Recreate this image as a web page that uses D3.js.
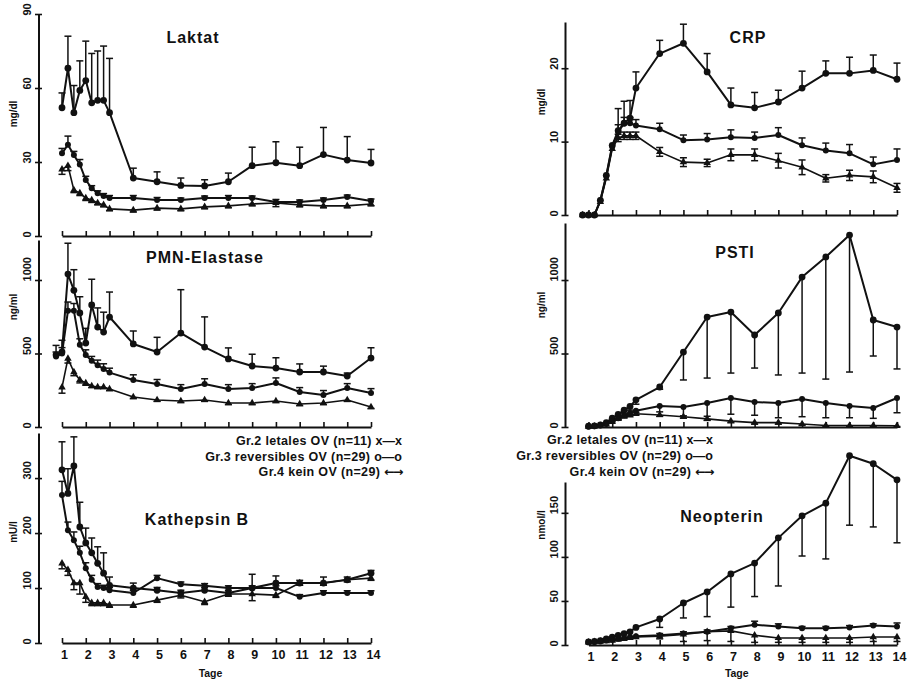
<!DOCTYPE html>
<html><head><meta charset="utf-8">
<script src="https://cdn.jsdelivr.net/npm/d3@7"></script>
<style>
body{margin:0;background:#fff;}
svg text{font-family:"Liberation Sans",Arial,sans-serif;font-weight:bold;fill:#111;}
</style></head><body>
<svg id="c" width="916" height="680"></svg>
<script>
// ---------- DATA ----------
const daysA = [1,1.25,1.5,1.75,2,2.25,2.5,2.75,3,4,5,6,7,8,9,10,11,12,13,14];
const daysB = [0.75,1,1.25,1.5,1.75,2,2.25,2.5,2.75,3,4,5,6,7,8,9,10,11,12,13,14];
const dayTicks = [1,2,3,4,5,6,7,8,9,10,11,12,13,14];
const groupLabels = ["Gr.2 letales OV (n=11) ", "Gr.3 reversibles OV (n=29) ", "Gr.4 kein OV (n=29) "];
const groupSymbols = ["x\u2014x", "o\u2014o", "\u2190\u2192"];

const laktatTicks = [0,30,60,90];
const laktat2 = [52,68,50,59,63,54,55,55,50,23.5,22,20.5,20.3,22,28.5,29.7,28.5,33,30.8,29.6];
const laktat2Err = [6,13,11,12,16,20,20,22,22,4,4,3,2.5,3.5,7.5,8.5,7.5,11,9.5,5.5];
const laktat3 = [33.5,37,32.8,29,22.7,19.4,17.3,16.2,15.4,15.4,14.6,14.6,15.4,15.4,15.4,13.8,13.8,14.6,15.8,14.2];
const laktat3Err = [2,3.5,1.5,2,1.5,1,1,1,1,1,1,0.8,0.8,1,0.8,1,0.8,0.8,0.8,0.8];
const laktat4 = [27,28.5,18.6,17.4,15.4,14.6,13.4,12.6,11,10.5,11.3,11,11.8,12.2,13,13.4,12.6,12.2,12.2,13];
const laktat4Err = [2,2,1,1,1,1,0.8,0.8,0.8,0.8,0.8,0.8,0.8,0.8,0.8,1.5,0.8,0.8,0.8,0.8];

const pmnTicks = [0,500,1000];
const pmn2 = [490,510,1040,930,776,571,830,680,646,748,565,510,639,544,463,415,401,374,374,347,469];
const pmn2Err = [65,80,210,140,110,100,175,130,135,170,88,100,295,205,75,80,70,55,40,20,70];
const pmn3 = [480,500,790,790,560,490,450,420,395,370,320,293,258,293,258,265,299,238,218,265,231];
const pmn3Err = [30,40,60,50,40,35,30,35,35,30,35,30,30,35,30,30,35,30,30,30,30];
const pmn4 = [null,270,465,374,320,299,279,272,272,258,204,184,177,184,163,163,177,156,163,184,136];
const pmn4Err = [0,40,30,25,20,15,10,10,10,10,10,10,10,10,10,10,10,10,10,10,10];

const kathTicks = [0,100,200,300];
const kath2 = [315,272,322,211,182,164,145,127,105,100,96,91,96,91,100,109,109,109,115,127];
const kath2Err = [51,45,53,45,27,27,30,37,15,9,5,5,5,5,25,13,5,11,5,5];
const kath3 = [269,205,187,164,136,115,102,100,96,91,118,107,104,100,100,100,84,91,91,91];
const kath3Err = [25,15,15,12,10,8,6,5,5,5,5,4,4,4,4,4,4,4,4,4];
const kath4 = [145,133,109,109,84,73,73,73,69,69,78,87,75,89,89,87,109,109,115,118];
const kath4Err = [10,10,12,20,10,5,5,5,4,4,4,5,5,4,12,4,4,4,4,4];

const crpTicks = [0,10,20];
const crp2 = [0,0,0,2,5.4,9.5,11.5,12.5,13.2,17.3,22,23.4,19.5,15,14.6,15.4,17.3,19.3,19.3,19.7,18.5];
const crp2Err = [0,0,0,0,0,0,3,3,2.4,2.2,1.8,2.6,2.5,2.3,2.1,1.6,2.3,1.7,2.2,2.1,2.2];
const crp3 = [0,0,0,2,5.3,9.3,11.3,12.5,12.5,12.2,11.7,10.2,10.3,10.6,10.5,10.9,9.5,8.8,8.4,6.9,7.5];
const crp3Err = [0,0,0,0,0,0,1,0.8,0.8,0.8,0.8,0.7,0.8,1,0.8,1,1,1,1.2,1,1.5];
const crp4 = [0,0,0,1.8,5,9,10.5,10.8,10.8,10.8,8.6,7.2,7.1,8.2,8.2,7.4,6.5,5,5.4,5.2,3.7];
const crp4Err = [0,0,0,0,0,0,0.5,0.5,0.5,0.5,0.6,0.6,0.5,0.8,0.8,1,1,0.5,0.7,0.8,0.6];

const pstiTicks = [0,500,1000];
const psti2 = [5,8,15,30,60,85,115,140,185,272,510,748,782,626,776,1020,1157,1306,728,680];
const psti2Err = [0,0,0,0,10,15,20,25,30,15,190,415,415,225,422,653,831,932,245,285];
const psti3 = [3,5,10,20,40,60,80,95,110,143,136,163,197,170,163,190,163,143,129,197];
const psti3Err = [0,0,0,0,5,10,10,10,10,40,60,90,110,90,100,120,100,80,70,100];
const psti4 = [2,4,8,18,35,55,70,80,90,82,70,55,40,30,30,20,10,10,10,8];
const psti4Err = [0,0,0,0,0,5,5,5,5,10,10,10,10,10,10,8,5,5,5,5];

const neoTicks = [0,50,100,150];
const neo2 = [3.5,4,5,7,9,11,13,15,20,29.5,47.7,60.2,80.7,93,121.6,146.6,161,214.8,205.7,187.5];
const neo2Err = [0,0,0,0,0,0,0,0,0,9.5,17,28,37.7,38,54.6,45.6,63.3,78.8,71.7,71.5];
const neo3 = [3,3.5,4,5,6,7,8,9,10,11,13,15,19,23,21,19,19,20,22,21];
const neo3Err = [0,0,0,0,0,0,0,0,0,2,2,2,2,4,3,2,2,2,2,4];
const neo4 = [3,3.5,4,4.5,5,6,7,8,9,10,12,15,16,11,8,8,8,8,9,9];
const neo4Err = [0,0,0,0,0,0,0,0,0,3,8,10,12,8,5,5,5,5,5,5];

// ---------- LAYOUT ----------
const svg = d3.select("#c");
const ink = "#111";
const xL = d3.scaleLinear().domain([1,14]).range([62,371]);
const xR = d3.scaleLinear().domain([1,14]).range([588.5,897]);

const panels = [
  {title:"Laktat", unit:"mg/dl", x:xL, axX:38.5, lblX:27, unitX:13, unitY:114, tX:193, tY:43,
   y:d3.scaleLinear().domain([0,90]).range([236,14]), ticks:laktatTicks, days:daysA, labels:false,
   series:[[laktat2,laktat2Err,"up"],[laktat3,laktat3Err,"up"],[laktat4,laktat4Err,"down"]]},
  {title:"PMN-Elastase", unit:"ng/ml", x:xL, axX:38.5, lblX:27, unitX:13, unitY:307, tX:205, tY:263,
   y:d3.scaleLinear().domain([0,1272]).range([427,240]), ticks:pmnTicks, days:daysB, labels:false,
   series:[[pmn2,pmn2Err,"up"],[pmn3,pmn3Err,"up"],[pmn4,pmn4Err,"down"]]},
  {title:"Kathepsin B", unit:"mU/l", x:xL, axX:38.5, lblX:27, unitX:13, unitY:532, tX:197, tY:525,
   y:d3.scaleLinear().domain([0,382]).range([643,433]), ticks:kathTicks, days:daysA, labels:true,
   series:[[kath2,kath2Err,"up"],[kath3,kath3Err,"up"],[kath4,kath4Err,"down"]]},
  {title:"CRP", unit:"mg/dl", x:xR, axX:565, lblX:554, unitX:541, unitY:102, tX:748, tY:43,
   y:d3.scaleLinear().domain([0,26.3]).range([215,22]), ticks:crpTicks, days:daysB, labels:false,
   series:[[crp2,crp2Err,"up"],[crp3,crp3Err,"up"],[crp4,crp4Err,"both"]]},
  {title:"PSTI", unit:"ng/ml", x:xR, axX:565, lblX:554, unitX:541, unitY:305, tX:735, tY:258,
   y:d3.scaleLinear().domain([0,1388]).range([427,223]), ticks:pstiTicks, days:daysA, labels:false,
   series:[[psti2,psti2Err,"down"],[psti3,psti3Err,"down"],[psti4,psti4Err,"down"]]},
  {title:"Neopterin", unit:"nmol/l", x:xR, axX:565, lblX:554, unitX:541, unitY:525, tX:722, tY:522,
   y:d3.scaleLinear().domain([0,185]).range([645,482]), ticks:neoTicks, days:daysA, labels:true,
   series:[[neo2,neo2Err,"down"],[neo3,neo3Err,"up"],[neo4,neo4Err,"down"]]}
];

panels.forEach(p => {
  const x = p.x, y = p.y, y0 = y(0);
  const g = svg.append("g");

  // y axis
  const ya = g.append("g").attr("transform", `translate(${p.axX},0)`)
    .call(d3.axisLeft(y).tickValues(p.ticks).tickSizeInner(3).tickSizeOuter(0).tickFormat(d3.format("d")));
  ya.select(".domain").attr("stroke", ink).attr("stroke-width", 2);
  ya.selectAll(".tick line").attr("x1", -3.5).attr("x2", 3.5).attr("stroke", ink).attr("stroke-width", 1.6);
  ya.selectAll(".tick text")
    .attr("x", null).attr("dy", "0.36em")
    .attr("text-anchor", "start")
    .attr("transform", `translate(${p.lblX - p.axX},1) rotate(-90)`)
    .style("font-size", "11px");

  // x axis
  const xa = g.append("g").attr("transform", `translate(0,${y0})`)
    .call(d3.axisBottom(x).tickValues(dayTicks).tickSizeInner(-5).tickSizeOuter(0).tickPadding(7)
      .tickFormat(p.labels ? d3.format("d") : ""));
  xa.select(".domain").attr("stroke", ink).attr("stroke-width", 1.8);
  xa.selectAll(".tick line").attr("stroke", ink).attr("stroke-width", 1.6);
  xa.selectAll(".tick text").attr("dx", 2).style("font-size", "12.5px");
  if (p.labels) {
    g.append("text").attr("x", (x.range()[0] + x.range()[1]) / 2 - 6).attr("y", 677)
      .attr("text-anchor", "middle").style("font-size", "10.5px").text("Tage");
  }

  // unit label
  g.append("text").attr("transform", `translate(${p.unitX},${p.unitY}) rotate(-90)`)
    .attr("text-anchor", "middle").attr("dy", "0.35em").style("font-size", "10px").text(p.unit);

  // title
  g.append("text").attr("x", p.tX).attr("y", p.tY).attr("text-anchor", "middle")
    .style("font-size", "16px").style("letter-spacing", "1px").text(p.title);

  // series
  p.series.forEach((s, si) => {
    const pts = p.days.map((t, i) => ({t, v: s[0][i], e: s[1][i]})).filter(d => d.v != null);
    const dir = s[2];
    const eg = g.append("g").attr("stroke", ink).attr("stroke-width", 1.5);
    pts.filter(d => d.e > 0).forEach(d => {
      const ends = dir === "both" ? [d.v + d.e, d.v - d.e] : [dir === "up" ? d.v + d.e : Math.max(0, d.v - d.e)];
      ends.forEach(ev => {
        eg.append("line").attr("x1", x(d.t)).attr("x2", x(d.t)).attr("y1", y(d.v)).attr("y2", y(ev));
        eg.append("line").attr("x1", x(d.t) - 3.5).attr("x2", x(d.t) + 3.5).attr("y1", y(ev)).attr("y2", y(ev));
      });
    });
    g.append("path").datum(pts)
      .attr("d", d3.line().x(d => x(d.t)).y(d => y(d.v)))
      .attr("fill", "none").attr("stroke", ink).attr("stroke-width", si === 2 ? 1.6 : 2)
      .attr("stroke-linejoin", "round");
    if (si < 2) {
      g.selectAll(null).data(pts).enter().append("circle")
        .attr("cx", d => x(d.t)).attr("cy", d => y(d.v)).attr("r", si === 0 ? 3.4 : 3).attr("fill", ink);
    } else {
      g.selectAll(null).data(pts).enter().append("path")
        .attr("transform", d => `translate(${x(d.t)},${y(d.v)})`)
        .attr("d", d3.symbol().type(d3.symbolTriangle).size(24)).attr("fill", ink);
    }
  });
});

// legends
[[402, [445, 460.5, 476]], [713, [444, 460, 476]]].forEach(([lx, ys]) => {
  const t = svg.append("g").selectAll("text").data(groupLabels).enter().append("text")
    .attr("x", lx).attr("y", (d, i) => ys[i]).attr("text-anchor", "end")
    .style("font-size", "12.5px").style("letter-spacing", "0.35px");
  t.append("tspan").text(d => d);
  t.append("tspan")
    .style("font-family", (d, i) => i === 2 ? "'DejaVu Sans', sans-serif" : null)
    .style("letter-spacing", (d, i) => i === 2 ? "-1.5px" : "0px")
    .text((d, i) => groupSymbols[i]);
});
</script>
</body></html>
